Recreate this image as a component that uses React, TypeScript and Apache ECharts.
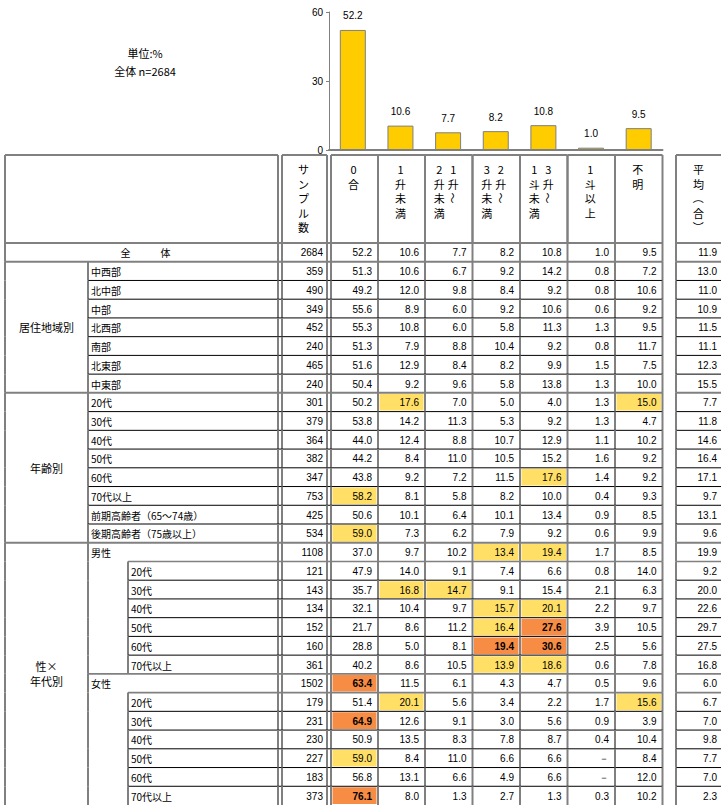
import React, { useEffect, useRef } from "react";
import * as echarts from "echarts";

// ---------- data ----------
const categories = ["0合", "1升未満", "1升～2升未満", "2升～3升未満", "3升～1斗未満", "1斗以上", "不明"];
const headerSample = "サンプル数";
const headerAvg = "平均（合）";
const unitLabel = "単位:%";
const totalLabel = "全体";

const rowLabels = [
  "全　　　体",
  "中西部", "北中部", "中部", "北西部", "南部", "北東部", "中東部",
  "20代", "30代", "40代", "50代", "60代", "70代以上", "前期高齢者（65～74歳）", "後期高齢者（75歳以上）",
  "男性", "20代", "30代", "40代", "50代", "60代", "70代以上",
  "女性", "20代", "30代", "40代", "50代", "60代", "70代以上",
];
const rowLevels = [0, 1, 1, 1, 1, 1, 1, 1, 1, 1, 1, 1, 1, 1, 1, 1, 1, 2, 2, 2, 2, 2, 2, 1, 2, 2, 2, 2, 2, 2];

const groupNames = ["居住地域別", "年齢別", "性×\n年代別"];
const groupSizes = [7, 8, 14];

const sampleSizes = [2684, 359, 490, 349, 452, 240, 465, 240, 301, 379, 364, 382, 347, 753, 425, 534, 1108, 121, 143, 134, 152, 160, 361, 1502, 179, 231, 230, 227, 183, 373];

const zeroGo = [52.2, 51.3, 49.2, 55.6, 55.3, 51.3, 51.6, 50.4, 50.2, 53.8, 44.0, 44.2, 43.8, 58.2, 50.6, 59.0, 37.0, 47.9, 35.7, 32.1, 21.7, 28.8, 40.2, 63.4, 51.4, 64.9, 50.9, 59.0, 56.8, 76.1];
const under1Sho = [10.6, 10.6, 12.0, 8.9, 10.8, 7.9, 12.9, 9.2, 17.6, 14.2, 12.4, 8.4, 9.2, 8.1, 10.1, 7.3, 9.7, 14.0, 16.8, 10.4, 8.6, 5.0, 8.6, 11.5, 20.1, 12.6, 13.5, 8.4, 13.1, 8.0];
const sho1to2 = [7.7, 6.7, 9.8, 6.0, 6.0, 8.8, 8.4, 9.6, 7.0, 11.3, 8.8, 11.0, 7.2, 5.8, 6.4, 6.2, 10.2, 9.1, 14.7, 9.7, 11.2, 8.1, 10.5, 6.1, 5.6, 9.1, 8.3, 11.0, 6.6, 1.3];
const sho2to3 = [8.2, 9.2, 8.4, 9.2, 5.8, 10.4, 8.2, 5.8, 5.0, 5.3, 10.7, 10.5, 11.5, 8.2, 10.1, 7.9, 13.4, 7.4, 9.1, 15.7, 16.4, 19.4, 13.9, 4.3, 3.4, 3.0, 7.8, 6.6, 4.9, 2.7];
const sho3toTo1 = [10.8, 14.2, 9.2, 10.6, 11.3, 9.2, 9.9, 13.8, 4.0, 9.2, 12.9, 15.2, 17.6, 10.0, 13.4, 9.2, 19.4, 6.6, 15.4, 20.1, 27.6, 30.6, 18.6, 4.7, 2.2, 5.6, 8.7, 6.6, 6.6, 1.3];
const to1Plus: (number | null)[] = [1.0, 0.8, 0.8, 0.6, 1.3, 0.8, 1.5, 1.3, 1.3, 1.3, 1.1, 1.6, 1.4, 0.4, 0.9, 0.6, 1.7, 0.8, 2.1, 2.2, 3.9, 2.5, 0.6, 0.5, 1.7, 0.9, 0.4, null, null, 0.3];
const unknown = [9.5, 7.2, 10.6, 9.2, 9.5, 11.7, 7.5, 10.0, 15.0, 4.7, 10.2, 9.2, 9.2, 9.3, 8.5, 9.9, 8.5, 14.0, 6.3, 9.7, 10.5, 5.6, 7.8, 9.6, 15.6, 3.9, 10.4, 8.4, 12.0, 10.2];
const avgGo = [11.9, 13.0, 11.0, 10.9, 11.5, 11.1, 12.3, 15.5, 7.7, 11.8, 14.6, 16.4, 17.1, 9.7, 13.1, 9.6, 19.9, 9.2, 20.0, 22.6, 29.7, 27.5, 16.8, 6.0, 6.7, 7.0, 9.8, 7.7, 7.0, 2.3];

// highlight codes per row for the 7 % columns: "." none, "y" notably high, "o" very high
const highlights = [
  ".......",
  ".......", ".......", ".......", ".......", ".......", ".......", ".......",
  ".y....y", ".......", ".......", ".......", "....y..", "y......", ".......", "y......",
  "...yy..", ".......", ".yy....", "...yy..", "...yo..", "...oo..", "...yy..",
  "o......", ".y....y", "o......", ".......", "y......", ".......", "o......",
];

const pctColumns: (number | null)[][] = [zeroGo, under1Sho, sho1to2, sho2to3, sho3toTo1, to1Plus, unknown];
const barValues = pctColumns.map((col) => col[0] as number);
const headerLabels = [headerSample, ...categories, headerAvg];

// ---------- layout / style ----------
const W = 721;
const H = 805;
const GRAY = "#808080";
const YELLOW = "#FFDF66";
const ORANGE = "#F78C45";
const FONT_NUM = "'Liberation Sans', Arial, sans-serif";
const FONT_JP = "'Noto Sans CJK JP', sans-serif";

const X_LEFT = 5;
const X_GROUP = 88;
const X_SUB = 128;
const X_LABEL_R = 278;
const X_SAMPLE_L = 282;
const X_SAMPLE_R = 327;
const PCT_EDGES = [331, 378, 425, 472.5, 520, 567.5, 615, 662.5];
const X_AVG_L = 676;
const X_AVG_R = 723;
const HEADER_TOP = 155;
const HEADER_H = 88;
const ROW_H = 18.83;

const headerBoxes: [number, number][] = [
  [X_SAMPLE_L, X_SAMPLE_R],
  ...PCT_EDGES.slice(0, 7).map((e, i) => [e, PCT_EDGES[i + 1]] as [number, number]),
  [X_AVG_L, X_AVG_R],
];

const groupStartRows: number[] = [];
{
  let s = 1;
  groupSizes.forEach((n) => {
    groupStartRows.push(s);
    s += n;
  });
}

const ROTATED = new Set(["～", "（", "）"]);

function fmt(v: number | null) {
  return v == null ? "－" : v.toFixed(1);
}

function ln(x1: number, y1: number, x2: number, y2: number, color: string, w: number) {
  return { type: "line", silent: true, shape: { x1, y1, x2, y2 }, style: { stroke: color, lineWidth: w } };
}

function txt(text: string, x: number, y: number, align: string, font: string, rotation = 0, lineHeight?: number) {
  return {
    type: "text",
    silent: true,
    x,
    y,
    rotation,
    style: {
      text,
      fill: "#000",
      font,
      align,
      verticalAlign: "middle",
      textAlign: align,
      textVerticalAlign: "middle",
      lineHeight,
    },
  };
}

function splitVertical(label: string): string[] {
  const i = label.indexOf("～");
  if (i < 0) return [label];
  return [label.slice(0, i + 1), label.slice(i + 1)]; // right column first, then left column
}

function renderHeader(params: any, api: any) {
  const i = params.dataIndex;
  const [l, r] = headerBoxes[i];
  const xl = api.coord([l, 0])[0];
  const xr = api.coord([r, 0])[0];
  const yTop = api.coord([0, 0])[1];
  const yBot = api.coord([0, HEADER_H])[1];
  const children: any[] = [];
  if (i === 0) {
    const x0 = api.coord([X_LEFT, 0])[0];
    const x1 = api.coord([X_LABEL_R, 0])[0];
    children.push(ln(x0, yTop, x1, yTop, GRAY, 2), ln(x0, yTop, x0, yBot, GRAY, 2), ln(x1, yTop, x1, yBot, GRAY, 2));
  }
  children.push(ln(xl, yTop, xr, yTop, GRAY, 2), ln(xl, yTop, xl, yBot, GRAY, 2), ln(xr, yTop, xr, yBot, GRAY, 2));
  const cols = splitVertical(headerLabels[i]);
  const cx = (xl + xr) / 2;
  const xs = cols.length === 2 ? [cx + 4.5, cx - 9.5] : [cx - 1];
  cols.forEach((s, ci) => {
    Array.from(s).forEach((ch, k) => {
      const y = api.coord([0, 14 + 14.5 * k])[1];
      children.push(txt(ch, xs[ci], y, "center", `11px ${FONT_JP}`, ROTATED.has(ch) ? -Math.PI / 2 : 0));
    });
  });
  return { type: "group", children };
}

function renderRow(params: any, api: any) {
  const r = params.dataIndex;
  const yc = api.coord([0, r])[1];
  const h = api.size([0, 1])[1];
  const top = yc - h / 2;
  const bot = yc + h / 2;
  const X = (v: number) => api.coord([v, r])[0];
  const level = rowLevels[r];
  const children: any[] = [];

  // highlight fills
  highlights[r].split("").forEach((code, c) => {
    if (code === ".") return;
    const x0 = X(PCT_EDGES[c]) + 1.5;
    const x1 = X(PCT_EDGES[c + 1]) - 1.5;
    children.push({
      type: "rect",
      silent: true,
      shape: { x: x0, y: top + 1, width: x1 - x0, height: h - 2 },
      style: { fill: code === "o" ? ORANGE : YELLOW },
    });
  });

  // top border
  const sectionStart = r === 0 || groupStartRows.includes(r);
  if (sectionStart) {
    children.push(ln(X(X_LEFT), top, X(PCT_EDGES[7]), top, GRAY, 2));
    children.push(ln(X(X_AVG_L), top, X(X_AVG_R), top, GRAY, 2));
  } else {
    const sx = level === 2 ? X_SUB : X_GROUP;
    const levelChange = rowLevels[r - 1] !== level;
    const color = levelChange ? GRAY : "#000";
    const w = levelChange ? 1.6 : 1;
    children.push(ln(X(sx), top, X(PCT_EDGES[7]), top, color, w));
    children.push(ln(X(X_AVG_L), top, X(X_AVG_R), top, color, w));
  }

  // vertical borders
  const vx: number[] = [X_LEFT];
  if (r > 0) vx.push(X_GROUP);
  if (level === 2) vx.push(X_SUB);
  vx.push(X_LABEL_R, X_SAMPLE_L, X_SAMPLE_R, ...PCT_EDGES, X_AVG_L, X_AVG_R);
  vx.forEach((v) => children.push(ln(X(v), top, X(v), bot, GRAY, 2)));

  // texts
  const ty = yc + 0.5;
  const fontJP = `10px ${FONT_JP}`;
  if (level === 0) children.push(txt(rowLabels[r], (X(X_LEFT) + X(X_LABEL_R)) / 2 + 4, ty, "center", fontJP));
  else if (level === 1) children.push(txt(rowLabels[r], X(X_GROUP) + 3, ty, "left", fontJP));
  else children.push(txt(rowLabels[r], X(X_SUB) + 3, ty, "left", fontJP));

  children.push(txt(String(sampleSizes[r]), X(X_SAMPLE_R) - 4, ty, "right", `10px ${FONT_NUM}`));
  pctColumns.forEach((col, c) => {
    const bold = highlights[r][c] === "o";
    children.push(txt(fmt(col[r]), X(PCT_EDGES[c + 1]) - 6, ty, "right", `${bold ? "bold " : ""}10px ${FONT_NUM}`));
  });
  children.push(txt(fmt(avgGo[r]), X(X_AVG_R) - 6, ty, "right", `10px ${FONT_NUM}`));

  return { type: "group", children };
}

function renderGroup(params: any, api: any) {
  const g = params.dataIndex;
  const start = groupStartRows[g];
  const end = start + groupSizes[g] - 1;
  const h = api.size([0, 1])[1];
  const top = api.coord([0, start])[1] - h / 2;
  const bot = api.coord([0, end])[1] + h / 2;
  const cx = (api.coord([X_LEFT, start])[0] + api.coord([X_GROUP, start])[0]) / 2;
  return {
    type: "group",
    children: [txt(groupNames[g], cx, (top + bot) / 2, "center", `11px ${FONT_JP}`, 0, 15)],
  };
}

export default function App() {
  const ref = useRef<HTMLDivElement>(null);
  useEffect(() => {
    const chart = echarts.init(ref.current!, null, { renderer: "svg" });
    const option: any = {
      animation: false,
      graphic: [
        {
          type: "text",
          x: 145,
          y: 53,
          silent: true,
          style: { text: unitLabel, fill: "#000", font: `11px ${FONT_JP}`, align: "center", verticalAlign: "middle", textAlign: "center", textVerticalAlign: "middle" },
        },
        {
          type: "text",
          x: 145,
          y: 71,
          silent: true,
          style: { text: `${totalLabel} n=${sampleSizes[0]}`, fill: "#000", font: `11px ${FONT_JP}`, align: "center", verticalAlign: "middle", textAlign: "center", textVerticalAlign: "middle" },
        },
      ],
      grid: [
        { left: 329, top: 12, width: 333.5, height: 138 },
        { left: 0, top: HEADER_TOP, width: W, height: HEADER_H },
        { left: 0, top: HEADER_TOP + HEADER_H, width: W, height: ROW_H * rowLabels.length },
      ],
      xAxis: [
        {
          gridIndex: 0,
          type: "category",
          data: categories,
          axisLine: { lineStyle: { color: GRAY, width: 2 } },
          axisTick: { show: false },
          axisLabel: { show: false },
        },
        { gridIndex: 1, type: "value", min: 0, max: W, show: false },
        { gridIndex: 2, type: "value", min: 0, max: W, show: false },
      ],
      yAxis: [
        {
          gridIndex: 0,
          type: "value",
          min: 0,
          max: 60,
          interval: 30,
          axisLine: { show: true, lineStyle: { color: GRAY, width: 1 } },
          axisTick: { show: true, length: 3, lineStyle: { color: GRAY } },
          splitLine: { show: false },
          axisLabel: { fontSize: 10, color: "#000", fontFamily: FONT_NUM, margin: 6 },
        },
        { gridIndex: 1, type: "value", min: 0, max: HEADER_H, inverse: true, show: false },
        { gridIndex: 2, type: "category", data: rowLabels.map((_, i) => String(i)), inverse: true, show: false },
      ],
      series: [
        {
          type: "bar",
          xAxisIndex: 0,
          yAxisIndex: 0,
          data: barValues,
          barWidth: 26,
          itemStyle: { color: "#FFCC00", borderColor: "#7f7f7f", borderWidth: 1 },
          label: {
            show: true,
            position: "top",
            distance: 9,
            fontSize: 10,
            color: "#000",
            fontFamily: FONT_NUM,
            formatter: (p: any) => Number(p.value).toFixed(1),
          },
          silent: true,
        },
        {
          type: "custom",
          xAxisIndex: 1,
          yAxisIndex: 1,
          data: headerLabels.map((_, i) => [0, 0, i]),
          encode: { x: 0, y: 1 },
          renderItem: renderHeader,
          silent: true,
        },
        {
          type: "custom",
          xAxisIndex: 2,
          yAxisIndex: 2,
          data: rowLabels.map((_, i) => [0, i]),
          encode: { x: 0, y: 1 },
          renderItem: renderRow,
          silent: true,
        },
        {
          type: "custom",
          xAxisIndex: 2,
          yAxisIndex: 2,
          data: groupNames.map((_, g) => [0, groupStartRows[g]]),
          encode: { x: 0, y: 1 },
          renderItem: renderGroup,
          silent: true,
        },
      ],
    };
    chart.setOption(option);
    return () => chart.dispose();
  }, []);
  return <div ref={ref} style={{ position: "absolute", left: 0, top: 0, width: W, height: H }} />;
}
